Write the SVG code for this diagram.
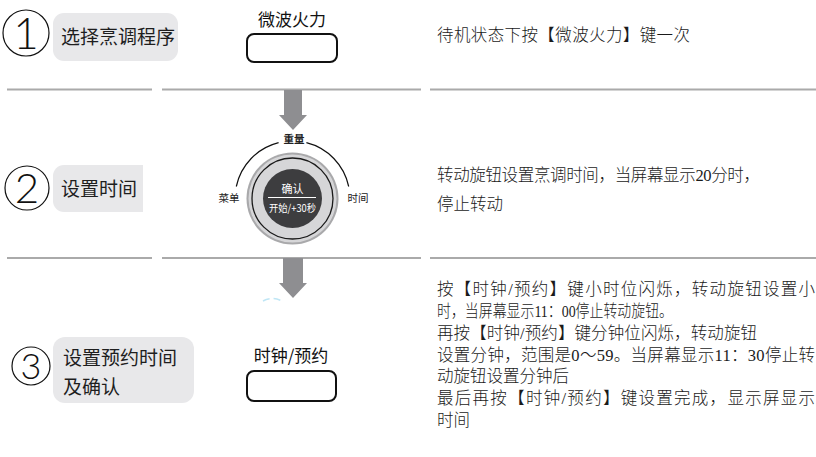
<svg xmlns="http://www.w3.org/2000/svg" width="816" height="457" viewBox="0 0 816 457">
<style>
.cjk{font-family:"Noto Sans CJK SC","Liberation Sans",sans-serif;}
.desc{font-family:"Liberation Serif","Noto Sans CJK SC",serif;font-size:16.5px;font-weight:300;fill:#1a1a1a;}
.step{font-size:19px;fill:#1e1e1e;}
.box{fill:#e8e8ea;}
.btn{fill:#fff;stroke:#111;stroke-width:2;}
.sep{stroke:#aaaaaa;stroke-width:2;fill:none;}
.num{fill:none;stroke:#111;stroke-width:1.2;}
.digit{font-family:"Lato","Liberation Sans",sans-serif;font-weight:300;fill:#111;text-anchor:middle;}
.arrow{fill:#8e8e91;}
.lbl{font-size:17px;fill:#111;text-anchor:middle;}
.knob{font-size:10.5px;fill:#222;text-anchor:middle;}
</style>

<g id="separators">
<line class="sep" x1="7" y1="89.5" x2="152" y2="89.5"/>
<line class="sep" x1="162" y1="89.5" x2="421" y2="89.5"/>
<line class="sep" x1="430" y1="89.5" x2="816" y2="89.5"/>
<line class="sep" x1="7" y1="258" x2="152" y2="258"/>
<line class="sep" x1="162" y1="258" x2="421" y2="258"/>
<line class="sep" x1="430" y1="258" x2="816" y2="258"/>
</g>

<g id="step1">
<circle class="num" cx="26" cy="33" r="23"/>
<text class="digit" x="26" y="49" font-size="44">1</text>
<rect class="box" x="53" y="13" width="125" height="48" rx="11"/>
<text class="cjk step" x="61" y="44">选择烹调程序</text>
</g>

<g id="button1">
<text class="cjk lbl" x="292" y="26">微波火力</text>
<rect class="btn" x="247" y="34" width="90" height="28" rx="7"/>
</g>

<g id="desc1">
<text class="desc" x="437" y="41" textLength="253" lengthAdjust="spacing">待机状态下按【微波火力】键一次</text>
</g>

<g id="step2">
<circle class="num" cx="27" cy="188" r="22"/>
<text class="digit" x="27" y="203" font-size="42">2</text>
<path class="box" d="M64,165 H143 V212 H64 A11,11 0 0 1 53,201 V176 A11,11 0 0 1 64,165 Z"/>
<text class="cjk step" x="61" y="196">设置时间</text>
</g>

<g id="knob">
<path d="M278.6,142.7 A57.5,57.5 0 0 0 236.3,186.5" fill="none" stroke="#111" stroke-width="1.2"/>
<path d="M306.4,142.7 A57.5,57.5 0 0 1 348.7,186.5" fill="none" stroke="#111" stroke-width="1.2"/>
<circle cx="292.5" cy="198.5" r="46" fill="#a9a9ab"/>
<circle cx="292.5" cy="198.5" r="44" fill="#d6d6d8"/>
<circle cx="292.5" cy="198.5" r="40.5" fill="#d6d6d8" stroke="#1a1a1a" stroke-width="1.3"/>
<circle cx="292.5" cy="198.5" r="29.5" fill="#3d3d3f"/>
<text class="cjk" x="292.5" y="193" font-size="11" fill="#fff" text-anchor="middle">确认</text>
<line x1="268" y1="197.5" x2="316" y2="197.5" stroke="#fff" stroke-width="1"/>
<text class="cjk" x="292.5" y="212" font-size="10.5" fill="#fff" text-anchor="middle" textLength="47" lengthAdjust="spacingAndGlyphs">开始/+30秒</text>
<text class="cjk knob" x="294" y="143" font-weight="bold" font-size="11">重量</text>
<text class="cjk knob" x="229" y="202">菜单</text>
<text class="cjk knob" x="358" y="202">时间</text>
</g>

<g id="desc2">
<text class="desc" x="437" y="181" textLength="323" lengthAdjust="spacing">转动旋钮设置烹调时间，当屏幕显示20分时，</text>
<text class="desc" x="437" y="210">停止转动</text>
</g>

<g id="step3">
<circle class="num" cx="31" cy="366" r="19"/>
<text class="digit" x="31" y="379" font-size="36">3</text>
<rect class="box" x="53" y="337" width="141" height="66" rx="12"/>
<text class="cjk step" x="63" y="365">设置预约时间</text>
<text class="cjk step" x="63" y="394">及确认</text>
</g>

<g id="button3">
<text class="cjk lbl" x="291" y="362" font-size="16">时钟/预约</text>
<rect class="btn" x="247" y="371" width="89" height="30" rx="7"/>
</g>

<g id="desc3">
<text class="desc" x="437" y="295" textLength="378" lengthAdjust="spacing">按【时钟/预约】键小时位闪烁，转动旋钮设置小</text>
<text class="desc" x="437" y="317" textLength="236" lengthAdjust="spacingAndGlyphs">时，当屏幕显示11：00停止转动旋钮。</text>
<text class="desc" x="437" y="339" textLength="320" lengthAdjust="spacing">再按【时钟/预约】键分钟位闪烁，转动旋钮</text>
<text class="desc" x="437" y="361" textLength="378" lengthAdjust="spacing">设置分钟，范围是0～59。当屏幕显示11：30停止转</text>
<text class="desc" x="437" y="382">动旋钮设置分钟后</text>
<text class="desc" x="437" y="404" textLength="378" lengthAdjust="spacing">最后再按【时钟/预约】键设置完成，显示屏显示</text>
<text class="desc" x="437" y="426">时间</text>
</g>

<g id="connectors">
<path class="arrow" d="M284,90 H302 V115 H307 L293,130 L279,115 H284 Z"/>
<path class="arrow" d="M283,258 H303 V283 H307 L293,298 L279,283 H283 Z"/>
<path d="M263,301 Q272,296 282,301" fill="none" stroke="#bfe6f5" stroke-width="1.5" stroke-dasharray="7 4"/>
</g>
</svg>
